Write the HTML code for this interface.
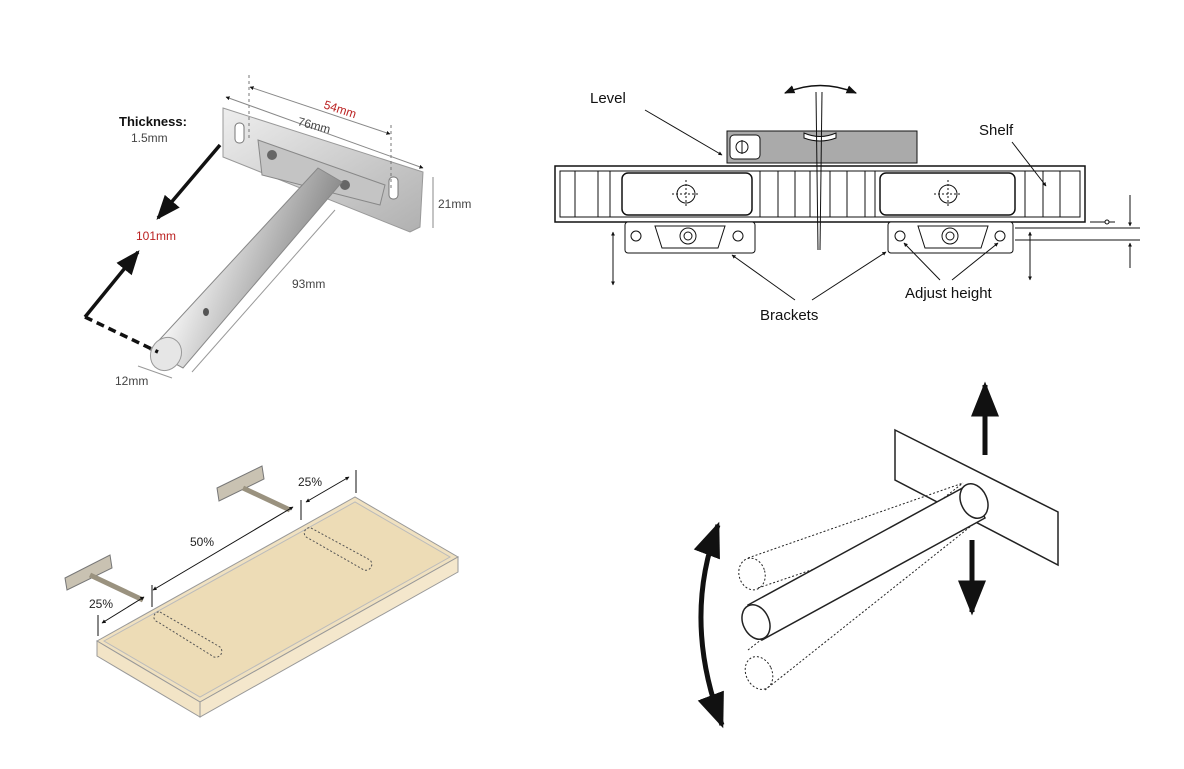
<!DOCTYPE html>
<html><head><meta charset="utf-8"><style>
html,body{margin:0;padding:0;background:#fff;}
svg{display:block;font-family:"Liberation Sans",sans-serif;}
</style></head><body>
<svg width="1184" height="769" viewBox="0 0 1184 769" xmlns="http://www.w3.org/2000/svg">
<defs>
<marker id="ah" viewBox="0 0 10 10" refX="9" refY="5" markerWidth="7" markerHeight="7" orient="auto-start-reverse"><path d="M0,1 L10,5 L0,9 z" fill="#111"/></marker>
<marker id="ab" viewBox="0 0 10 10" refX="9" refY="5" markerWidth="4" markerHeight="4" orient="auto-start-reverse"><path d="M0,0 L10,5 L0,10 z" fill="#111"/></marker>
<linearGradient id="rod" x1="0" y1="0" x2="1" y2="0.4"><stop offset="0" stop-color="#888"/><stop offset="0.35" stop-color="#f4f4f4"/><stop offset="0.6" stop-color="#c4c4c4"/><stop offset="1" stop-color="#777"/></linearGradient>
<linearGradient id="pl" x1="0" y1="0" x2="1" y2="1"><stop offset="0" stop-color="#eee"/><stop offset="1" stop-color="#b0b0b0"/></linearGradient>
</defs>

<!-- ===== TOP LEFT: bracket photo ===== -->
<polygon points="223,108 423,172 420,227 410,232 223,157" fill="url(#pl)" stroke="#999"/>
<rect x="235" y="123" width="9" height="20" rx="4" fill="#fff" stroke="#777"/>
<rect x="389" y="177" width="9" height="22" rx="4" fill="#fff" stroke="#777"/>
<polygon points="258,140 385,185 380,205 262,175" fill="#c4c4c4" stroke="#888"/>
<circle cx="272" cy="155" r="5" fill="#666"/><circle cx="345" cy="185" r="5" fill="#666"/>
<polygon points="318,168 342,182 183,368 150,350" fill="url(#rod)" stroke="#888"/>
<ellipse cx="166" cy="354" rx="15" ry="17" fill="#e6e6e6" stroke="#999" transform="rotate(30 166 354)"/>
<ellipse cx="206" cy="312" rx="3" ry="4" fill="#555"/>
<!-- dims -->
<line x1="249" y1="75" x2="249" y2="140" stroke="#777" stroke-dasharray="3,3"/>
<line x1="391" y1="125" x2="391" y2="190" stroke="#777" stroke-dasharray="3,3"/>
<line x1="250" y1="87" x2="390" y2="134" stroke="#888" marker-start="url(#ab)" marker-end="url(#ab)"/>
<line x1="226" y1="97" x2="423" y2="168" stroke="#888" marker-start="url(#ab)" marker-end="url(#ab)"/>
<text x="323" y="108" font-size="12" fill="#b22" transform="rotate(18 323 108)">54mm</text>
<text x="297" y="125" font-size="12" fill="#444" transform="rotate(15 297 125)">76mm</text>
<line x1="433" y1="177" x2="433" y2="228" stroke="#888"/>
<text x="438" y="208" font-size="12" fill="#444">21mm</text>
<text x="119" y="126" font-size="13" font-weight="bold" fill="#111">Thickness:</text>
<text x="131" y="142" font-size="12" fill="#444">1.5mm</text>
<line x1="220" y1="145" x2="158" y2="218" stroke="#111" stroke-width="3.5" marker-end="url(#ah)"/>
<text x="136" y="240" font-size="12" fill="#b22">101mm</text>
<line x1="85" y1="317" x2="138" y2="252" stroke="#111" stroke-width="3.5" marker-end="url(#ah)"/>
<line x1="85" y1="317" x2="158" y2="352" stroke="#111" stroke-width="3.5" stroke-dasharray="8,5"/>
<line x1="335" y1="210" x2="192" y2="372" stroke="#999"/>
<text x="292" y="288" font-size="12" fill="#444">93mm</text>
<line x1="138" y1="366" x2="172" y2="378" stroke="#999"/>
<text x="115" y="385" font-size="12" fill="#444">12mm</text>

<!-- ===== TOP RIGHT: level diagram ===== -->
<rect x="555" y="166" width="530" height="56" fill="#fff" stroke="#111" stroke-width="1.5"/>
<rect x="560" y="171" width="520" height="46" fill="none" stroke="#111"/>
<g stroke="#111" stroke-width="1">
<line x1="575" y1="171" x2="575" y2="217"/><line x1="598" y1="171" x2="598" y2="217"/>
<line x1="760" y1="171" x2="760" y2="217"/><line x1="778" y1="171" x2="778" y2="217"/><line x1="795" y1="171" x2="795" y2="217"/><line x1="810" y1="171" x2="810" y2="217"/><line x1="830" y1="171" x2="830" y2="217"/><line x1="847" y1="171" x2="847" y2="217"/><line x1="865" y1="171" x2="865" y2="217"/>
<line x1="1025" y1="171" x2="1025" y2="217"/><line x1="1043" y1="171" x2="1043" y2="217"/><line x1="1060" y1="171" x2="1060" y2="217"/>
<line x1="610" y1="171" x2="610" y2="217"/><line x1="875" y1="171" x2="875" y2="217"/>
</g>
<rect x="622" y="173" width="130" height="42" rx="6" fill="#fff" stroke="#111" stroke-width="1.5"/>
<rect x="880" y="173" width="135" height="42" rx="6" fill="#fff" stroke="#111" stroke-width="1.5"/>
<circle cx="686" cy="194" r="9" fill="#fff" stroke="#111"/><line x1="672" y1="194" x2="700" y2="194" stroke="#111" stroke-dasharray="2,2"/><line x1="686" y1="180" x2="686" y2="208" stroke="#111" stroke-dasharray="2,2"/>
<circle cx="948" cy="194" r="9" fill="#fff" stroke="#111"/><line x1="934" y1="194" x2="962" y2="194" stroke="#111" stroke-dasharray="2,2"/><line x1="948" y1="180" x2="948" y2="208" stroke="#111" stroke-dasharray="2,2"/>
<rect x="727" y="131" width="190" height="32" fill="#aaa" stroke="#111"/>
<rect x="730" y="135" width="30" height="24" rx="4" fill="#fff" stroke="#111"/>
<circle cx="742" cy="147" r="6" fill="#fff" stroke="#111"/><line x1="742" y1="140" x2="742" y2="154" stroke="#111"/>
<path d="M804,133 Q820,140 836,133 L836,138 Q820,144 804,138 z" fill="#fff" stroke="#111"/>
<line x1="816" y1="92" x2="818" y2="250" stroke="#111"/><line x1="822" y1="92" x2="820" y2="250" stroke="#111"/>
<path d="M785,93 Q820,78 856,93" fill="none" stroke="#111" stroke-width="1.5" marker-start="url(#ah)" marker-end="url(#ah)"/>
<rect x="625" y="222" width="130" height="31" rx="3" fill="#fff" stroke="#111"/>
<rect x="888" y="222" width="125" height="31" rx="3" fill="#fff" stroke="#111"/>
<polygon points="655,226 725,226 718,248 662,248" fill="none" stroke="#111"/>
<polygon points="918,226 988,226 981,248 925,248" fill="none" stroke="#111"/>
<g fill="#fff" stroke="#111">
<circle cx="636" cy="236" r="5"/><circle cx="738" cy="236" r="5"/><circle cx="688" cy="236" r="8"/><circle cx="688" cy="236" r="4"/>
<circle cx="900" cy="236" r="5"/><circle cx="1000" cy="236" r="5"/><circle cx="950" cy="236" r="8"/><circle cx="950" cy="236" r="4"/>
</g>
<line x1="613" y1="232" x2="613" y2="285" stroke="#111" marker-start="url(#ab)" marker-end="url(#ab)"/>
<line x1="1030" y1="232" x2="1030" y2="280" stroke="#111" marker-start="url(#ab)" marker-end="url(#ab)"/>
<line x1="1015" y1="228" x2="1140" y2="228" stroke="#111"/><line x1="1015" y1="240" x2="1140" y2="240" stroke="#111"/>
<line x1="1090" y1="222" x2="1115" y2="222" stroke="#111"/><circle cx="1107" cy="222" r="2" fill="#fff" stroke="#111"/>
<line x1="1130" y1="195" x2="1130" y2="226" stroke="#111" marker-end="url(#ab)"/>
<line x1="1130" y1="268" x2="1130" y2="243" stroke="#111" marker-end="url(#ab)"/>
<text x="590" y="103" font-size="15" fill="#111">Level</text>
<line x1="645" y1="110" x2="722" y2="155" stroke="#111" marker-end="url(#ab)"/>
<text x="979" y="135" font-size="15" fill="#111">Shelf</text>
<line x1="1012" y1="142" x2="1046" y2="186" stroke="#111" marker-end="url(#ab)"/>
<text x="760" y="320" font-size="15" fill="#111">Brackets</text>
<line x1="795" y1="300" x2="732" y2="255" stroke="#111" marker-end="url(#ab)"/>
<line x1="812" y1="300" x2="886" y2="252" stroke="#111" marker-end="url(#ab)"/>
<text x="905" y="298" font-size="15" fill="#111">Adjust height</text>
<line x1="940" y1="280" x2="904" y2="243" stroke="#111" marker-end="url(#ab)"/>
<line x1="952" y1="280" x2="998" y2="243" stroke="#111" marker-end="url(#ab)"/>

<!-- ===== BOTTOM LEFT: shelf ===== -->
<polygon points="97,641 355,497 458,557 200,702" fill="#f0e1c0" stroke="#999"/>
<polygon points="104,641 355,502 450,557 200,697" fill="#eddcb6" stroke="#bbb"/>
<polygon points="97,641 200,702 200,717 97,656" fill="#f2e4c6" stroke="#999"/>
<polygon points="200,702 458,557 458,572 200,717" fill="#f4e7cc" stroke="#999"/>
<path d="M160,612 L220,647 a6,6 0 0 1 -6,10 L158,622 a5,5 0 0 1 2,-10 z" fill="none" stroke="#555" stroke-dasharray="2,2"/>
<path d="M311,528 L370,560 a6,6 0 0 1 -6,10 L308,538 a5,5 0 0 1 3,-10 z" fill="none" stroke="#555" stroke-dasharray="2,2"/>
<g fill="#c9c2b2" stroke="#777">
<polygon points="65,578 110,555 112,568 67,590"/><line x1="90" y1="575" x2="143" y2="600" stroke="#9a927f" stroke-width="5"/>
<polygon points="217,488 262,466 264,479 219,501"/><line x1="243" y1="488" x2="290" y2="510" stroke="#9a927f" stroke-width="5"/>
</g>
<line x1="98" y1="615" x2="98" y2="636" stroke="#111"/>
<line x1="152" y1="585" x2="152" y2="607" stroke="#111"/>
<line x1="301" y1="500" x2="301" y2="520" stroke="#111"/>
<line x1="356" y1="470" x2="356" y2="493" stroke="#111"/>
<line x1="102" y1="623" x2="144" y2="597" stroke="#111" marker-start="url(#ab)" marker-end="url(#ab)"/>
<line x1="153" y1="590" x2="293" y2="507" stroke="#111" marker-start="url(#ab)" marker-end="url(#ab)"/>
<line x1="306" y1="502" x2="349" y2="477" stroke="#111" marker-start="url(#ab)" marker-end="url(#ab)"/>
<text x="89" y="608" font-size="12" fill="#222">25%</text>
<text x="190" y="546" font-size="12" fill="#222">50%</text>
<text x="298" y="486" font-size="12" fill="#222">25%</text>

<!-- ===== BOTTOM RIGHT ===== -->
<polygon points="895,430 1058,512 1058,565 895,480" fill="#fff" stroke="#222" stroke-width="1.5"/>
<g fill="none" stroke="#222" stroke-dasharray="2,2">
<line x1="748" y1="558" x2="963" y2="483"/><line x1="758" y1="588" x2="983" y2="512"/>
<line x1="748" y1="650" x2="963" y2="483"/><line x1="765" y1="690" x2="985" y2="515"/>
<ellipse cx="752" cy="574" rx="13" ry="16" transform="rotate(-15 752 574)"/>
<ellipse cx="759" cy="673" rx="13" ry="17" transform="rotate(-25 759 673)"/>
</g>
<polygon points="748,605 968,485 985,518 762,640" fill="#fff" stroke="#222" stroke-width="1.5"/>
<ellipse cx="974" cy="501" rx="13" ry="18" fill="#fff" stroke="#222" stroke-width="1.5" transform="rotate(-25 974 501)"/>
<ellipse cx="756" cy="622" rx="13" ry="18" fill="#fff" stroke="#222" stroke-width="1.5" transform="rotate(-25 756 622)"/>
<line x1="985" y1="455" x2="985" y2="385" stroke="#111" stroke-width="5" marker-end="url(#ah)"/>
<line x1="972" y1="540" x2="972" y2="612" stroke="#111" stroke-width="5" marker-end="url(#ah)"/>
<path d="M718,525 Q682,620 722,725" fill="none" stroke="#111" stroke-width="5" marker-start="url(#ah)" marker-end="url(#ah)"/>
</svg>
</body></html>
